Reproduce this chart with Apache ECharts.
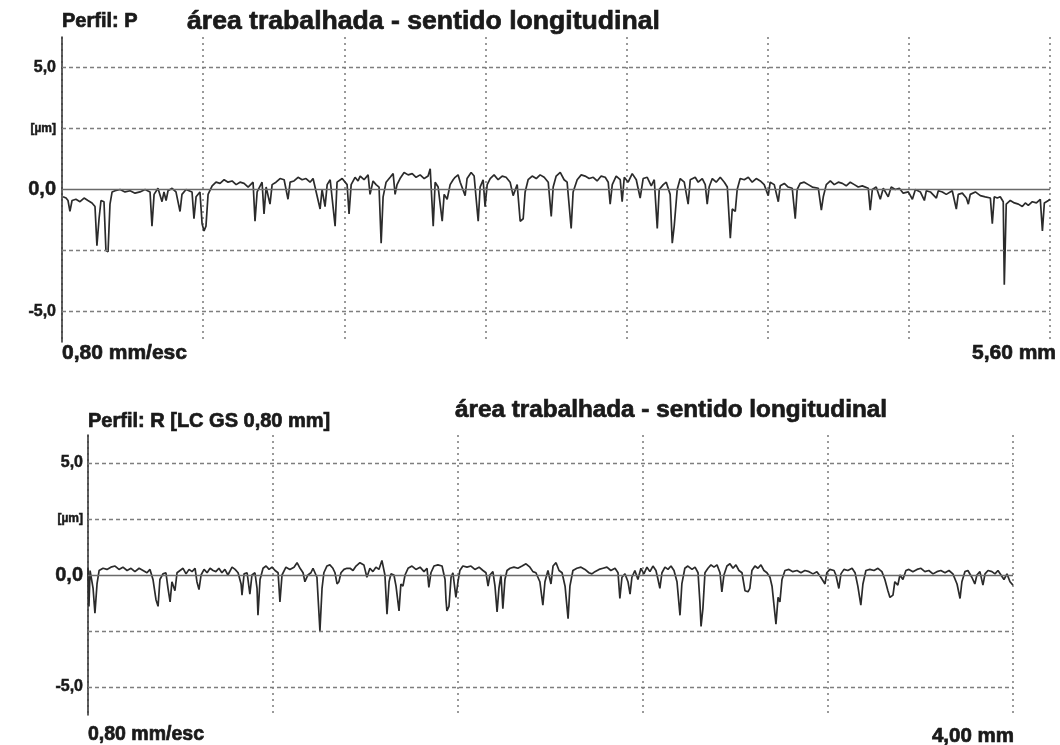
<!DOCTYPE html>
<html>
<head>
<meta charset="utf-8">
<script src="https://cdn.jsdelivr.net/npm/echarts@6/dist/echarts.min.js"></script>
<style>
  html, body { margin: 0; padding: 0; background: #ffffff; }
  #chart { width: 1060px; height: 745px; }
</style>
</head>
<body>
<div id="chart"></div>
<script>
// Primary profile (P): [position in mm, height in µm]
const profileP = [
  [0.006,-0.30],[0.023,-0.35],[0.034,-0.45],[0.045,-0.90],[0.057,-0.45],[0.079,-0.40],[0.102,-0.50],[0.125,-0.35],[0.147,-0.45],[0.170,-0.55],
  [0.187,-0.70],[0.198,-2.30],[0.210,-1.20],[0.221,-0.45],[0.238,-0.50],[0.249,-2.50],[0.261,-2.55],[0.272,-0.60],[0.284,-0.10],[0.301,-0.05],
  [0.329,0.00],[0.357,-0.10],[0.386,-0.05],[0.414,-0.15],[0.442,-0.10],[0.471,0.00],[0.499,-0.10],[0.510,-1.50],[0.522,-0.20],[0.544,0.05],
  [0.567,-0.50],[0.578,-0.10],[0.590,-0.45],[0.601,-0.05],[0.624,0.05],[0.646,-0.10],[0.669,-0.90],[0.680,-0.20],[0.703,0.00],[0.737,-0.10],
  [0.748,-1.20],[0.760,-0.30],[0.782,-0.10],[0.794,-1.40],[0.805,-1.70],[0.816,-1.50],[0.828,-0.20],[0.851,0.15],[0.873,0.30],[0.896,0.25],
  [0.919,0.40],[0.941,0.30],[0.964,0.35],[0.987,0.20],[1.009,0.30],[1.032,0.25],[1.055,0.10],[1.083,0.30],[1.094,-1.30],[1.106,-0.10],
  [1.134,0.30],[1.145,-1.00],[1.157,0.10],[1.179,-0.60],[1.191,0.20],[1.213,0.30],[1.236,0.45],[1.259,0.40],[1.281,-0.40],[1.293,0.30],
  [1.315,0.35],[1.338,0.50],[1.361,0.40],[1.383,0.45],[1.406,0.30],[1.423,0.45],[1.463,-0.80],[1.474,0.00],[1.491,-0.70],[1.503,0.20],
  [1.520,0.40],[1.548,-1.50],[1.559,0.30],[1.588,0.45],[1.616,0.20],[1.627,-1.00],[1.639,0.20],[1.661,0.50],[1.678,0.35],[1.690,0.55],
  [1.712,0.40],[1.735,0.60],[1.746,-0.20],[1.763,0.35],[1.780,0.20],[1.797,0.10],[1.809,-2.20],[1.820,-0.30],[1.837,0.30],[1.860,0.50],
  [1.877,0.65],[1.888,-0.20],[1.899,0.20],[1.916,0.45],[1.939,0.70],[1.962,0.60],[1.985,0.65],[2.007,0.50],[2.030,0.60],[2.053,0.45],
  [2.075,0.55],[2.087,0.85],[2.104,-1.50],[2.115,0.30],[2.132,0.10],[2.155,-1.30],[2.166,-0.20],[2.183,-0.40],[2.200,0.20],[2.217,0.40],
  [2.228,0.50],[2.245,0.60],[2.257,0.30],[2.285,-0.25],[2.296,0.45],[2.319,0.70],[2.336,0.55],[2.359,-1.30],[2.370,0.10],[2.387,0.40],
  [2.398,-0.70],[2.410,0.20],[2.427,0.45],[2.449,0.60],[2.472,0.40],[2.495,0.55],[2.517,0.50],[2.540,0.30],[2.557,-0.25],[2.580,0.20],
  [2.597,-1.30],[2.614,-1.20],[2.625,-0.10],[2.642,0.40],[2.665,0.55],[2.688,0.45],[2.710,0.60],[2.733,0.50],[2.756,0.30],[2.773,-1.10],
  [2.784,0.10],[2.801,0.55],[2.824,0.70],[2.846,0.40],[2.863,0.30],[2.886,-1.60],[2.897,-0.10],[2.920,0.40],[2.943,0.60],[2.965,0.55],
  [2.988,0.45],[3.011,0.50],[3.033,0.35],[3.056,0.55],[3.079,0.50],[3.096,0.30],[3.107,-0.60],[3.119,0.20],[3.141,0.55],[3.164,0.40],
  [3.175,-0.50],[3.187,0.50],[3.209,0.30],[3.232,0.65],[3.255,0.40],[3.277,-0.35],[3.294,0.45],[3.317,0.50],[3.340,0.15],[3.357,0.40],
  [3.374,-1.60],[3.385,0.00],[3.408,0.20],[3.425,0.30],[3.447,-0.20],[3.459,-2.20],[3.470,-1.50],[3.487,0.00],[3.504,0.45],[3.527,0.30],
  [3.549,-0.60],[3.561,0.40],[3.572,0.35],[3.589,0.50],[3.606,0.30],[3.629,0.45],[3.646,0.20],[3.657,-0.60],[3.668,0.10],[3.686,0.45],
  [3.708,0.30],[3.731,0.50],[3.754,0.30],[3.771,0.10],[3.788,-2.00],[3.799,-0.80],[3.816,-0.90],[3.827,0.00],[3.844,0.45],[3.867,0.40],
  [3.890,0.50],[3.912,0.30],[3.935,0.45],[3.958,0.35],[3.980,0.20],[4.003,-0.25],[4.014,0.30],[4.037,0.20],[4.060,-0.50],[4.071,0.15],
  [4.094,0.25],[4.116,0.10],[4.139,0.05],[4.156,-1.20],[4.167,0.00],[4.184,0.25],[4.207,0.30],[4.230,0.20],[4.253,0.10],[4.287,0.05],
  [4.304,-0.85],[4.315,-0.30],[4.332,0.20],[4.355,0.35],[4.377,0.20],[4.400,0.30],[4.423,0.25],[4.445,0.15],[4.468,0.30],[4.491,0.20],
  [4.513,0.10],[4.536,0.15],[4.570,0.05],[4.581,-0.85],[4.593,0.00],[4.615,0.10],[4.638,-0.40],[4.655,0.05],[4.683,-0.30],[4.700,0.10],
  [4.723,0.00],[4.746,0.05],[4.768,-0.15],[4.797,-0.10],[4.820,-0.40],[4.837,0.00],[4.865,-0.10],[4.888,-0.45],[4.899,-0.05],[4.922,-0.10],
  [4.956,-0.35],[4.967,-0.05],[4.990,-0.10],[5.012,-0.20],[5.046,-0.05],[5.069,-0.80],[5.080,-0.20],[5.103,-0.15],[5.126,-0.35],[5.137,-0.60],
  [5.148,-0.20],[5.177,-0.10],[5.205,-0.25],[5.233,-0.30],[5.262,-0.35],[5.273,-1.40],[5.284,-0.30],[5.301,-0.35],[5.318,-0.30],[5.335,-0.50],
  [5.341,-3.90],[5.352,-0.60],[5.375,-0.45],[5.398,-0.55],[5.421,-0.60],[5.443,-0.70],[5.460,-0.55],[5.477,-0.65],[5.500,-0.50],[5.523,-0.55],
  [5.545,-0.40],[5.557,-1.70],[5.568,-0.55],[5.591,-0.45],[5.600,-0.40]
];

// Roughness profile (R, Gaussian filter Lc 0,80 mm): [position in mm, height in µm]
const profileR = [
  [0.000,0.30],[0.004,-1.40],[0.009,0.20],[0.022,-0.60],[0.030,-1.70],[0.039,-0.40],[0.048,0.20],[0.065,0.30],[0.082,0.25],[0.099,0.35],
  [0.117,0.40],[0.134,0.25],[0.151,0.35],[0.169,0.20],[0.186,0.30],[0.203,0.15],[0.221,0.30],[0.238,0.20],[0.255,0.10],[0.268,0.25],
  [0.281,-0.20],[0.294,-1.10],[0.303,-1.40],[0.311,-0.20],[0.324,0.05],[0.337,0.10],[0.346,-0.60],[0.355,-1.20],[0.363,-0.30],[0.376,-0.70],
  [0.385,0.10],[0.398,0.20],[0.411,0.30],[0.424,0.05],[0.437,0.25],[0.450,0.15],[0.463,0.30],[0.471,-0.30],[0.480,-0.65],[0.489,0.00],
  [0.502,0.25],[0.515,0.10],[0.528,0.30],[0.541,0.20],[0.553,0.15],[0.566,0.30],[0.579,0.10],[0.592,0.25],[0.605,0.00],[0.623,0.35],
  [0.636,0.25],[0.649,0.10],[0.662,-0.40],[0.666,-0.90],[0.675,0.05],[0.688,0.10],[0.700,-0.85],[0.709,0.00],[0.722,0.10],[0.731,-0.60],
  [0.735,-1.80],[0.744,-0.20],[0.757,0.30],[0.770,0.40],[0.783,0.25],[0.796,0.35],[0.809,0.20],[0.822,0.10],[0.830,-1.20],[0.839,0.00],
  [0.856,0.35],[0.873,0.25],[0.891,0.35],[0.904,0.55],[0.917,0.30],[0.930,0.10],[0.938,-0.30],[0.951,0.00],[0.964,0.10],[0.973,0.30],
  [0.990,-0.10],[1.003,-2.50],[1.012,-0.60],[1.020,0.10],[1.033,0.40],[1.046,0.45],[1.059,0.30],[1.068,0.10],[1.077,-0.40],[1.085,-0.30],
  [1.094,0.10],[1.107,0.25],[1.120,0.30],[1.133,0.30],[1.146,0.20],[1.159,0.40],[1.176,0.55],[1.193,0.45],[1.206,-0.10],[1.219,0.30],
  [1.232,0.15],[1.245,0.35],[1.258,0.25],[1.271,0.65],[1.284,0.00],[1.293,-1.75],[1.302,-0.30],[1.310,0.05],[1.323,0.00],[1.332,-0.50],
  [1.345,-1.60],[1.353,-0.40],[1.362,-0.50],[1.371,0.00],[1.384,0.30],[1.401,0.40],[1.418,0.25],[1.436,0.35],[1.453,0.15],[1.466,0.30],
  [1.474,-0.55],[1.483,0.10],[1.496,0.40],[1.513,0.45],[1.531,0.40],[1.544,-0.20],[1.548,-1.10],[1.552,-1.60],[1.561,-1.40],[1.570,-0.10],
  [1.578,0.10],[1.591,-1.00],[1.600,-0.30],[1.608,0.20],[1.621,0.40],[1.639,0.35],[1.656,0.40],[1.673,0.25],[1.691,0.35],[1.708,0.20],
  [1.721,0.10],[1.730,-0.50],[1.738,0.00],[1.751,0.15],[1.760,-0.50],[1.769,-1.65],[1.777,-0.60],[1.786,0.00],[1.794,-1.50],[1.803,-0.20],
  [1.812,0.20],[1.825,0.30],[1.842,0.35],[1.859,0.30],[1.877,0.40],[1.894,0.50],[1.911,0.35],[1.924,0.15],[1.937,0.10],[1.954,-0.30],
  [1.967,-1.35],[1.976,-0.30],[1.989,0.20],[2.002,-0.40],[2.011,0.40],[2.024,0.55],[2.037,0.20],[2.050,0.10],[2.063,-0.50],[2.076,-1.95],
  [2.084,-0.50],[2.097,0.20],[2.114,0.30],[2.132,0.35],[2.149,0.25],[2.166,0.10],[2.179,0.05],[2.192,0.15],[2.210,0.25],[2.227,0.30],
  [2.244,0.35],[2.261,0.20],[2.279,0.30],[2.292,0.10],[2.300,-1.05],[2.309,-0.10],[2.322,0.05],[2.335,-0.30],[2.344,-0.85],[2.352,-0.10],
  [2.365,0.20],[2.378,-0.20],[2.391,0.30],[2.404,0.05],[2.417,0.35],[2.430,0.15],[2.443,0.40],[2.456,0.20],[2.465,-0.20],[2.473,-0.60],
  [2.482,0.10],[2.495,0.35],[2.508,0.25],[2.521,0.40],[2.534,0.20],[2.547,-0.30],[2.560,-1.80],[2.568,-0.40],[2.581,0.30],[2.594,0.40],
  [2.612,0.25],[2.625,0.35],[2.638,0.10],[2.646,-1.20],[2.651,-2.30],[2.659,-1.50],[2.668,0.10],[2.681,0.30],[2.694,0.45],[2.707,0.35],
  [2.720,0.45],[2.733,0.10],[2.741,-0.75],[2.750,0.00],[2.763,0.40],[2.776,0.50],[2.789,0.30],[2.802,0.45],[2.815,0.20],[2.828,0.10],
  [2.841,-0.70],[2.854,-0.75],[2.862,-0.60],[2.871,0.20],[2.884,0.40],[2.897,0.30],[2.910,0.45],[2.923,0.20],[2.936,0.10],[2.949,-0.10],
  [2.958,-0.50],[2.966,-1.30],[2.975,-2.20],[2.984,-1.00],[2.992,-1.20],[3.001,-0.20],[3.014,0.20],[3.031,0.25],[3.048,0.15],[3.066,0.20],
  [3.083,0.10],[3.100,0.20],[3.118,0.15],[3.135,0.05],[3.152,0.15],[3.169,-0.10],[3.187,-0.40],[3.195,0.10],[3.208,0.25],[3.226,0.20],
  [3.234,0.00],[3.247,-0.60],[3.256,0.05],[3.269,0.25],[3.286,0.20],[3.304,0.30],[3.317,0.10],[3.329,-0.50],[3.342,-1.35],[3.351,-0.40],
  [3.364,0.20],[3.381,0.25],[3.399,0.20],[3.416,0.30],[3.433,0.15],[3.446,-0.20],[3.459,-0.70],[3.468,-1.00],[3.481,-0.90],[3.489,-0.30],
  [3.502,-0.45],[3.511,0.00],[3.524,-0.20],[3.537,0.20],[3.550,0.25],[3.567,0.15],[3.585,0.25],[3.602,0.30],[3.619,0.15],[3.636,0.20],
  [3.654,0.05],[3.671,0.15],[3.688,0.20],[3.706,0.10],[3.723,0.20],[3.740,0.05],[3.758,-0.40],[3.771,-1.05],[3.779,-0.30],[3.792,0.15],
  [3.805,0.20],[3.822,-0.10],[3.835,-0.40],[3.844,0.00],[3.857,0.15],[3.870,-0.45],[3.879,0.05],[3.892,0.20],[3.909,0.15],[3.922,0.05],
  [3.935,0.20],[3.948,0.00],[3.961,-0.20],[3.974,0.05],[3.987,-0.30],[4.000,-0.45]
];

// Axis settings and texts
const lengthP = 5.6;          // mm
const lengthR = 4.0;          // mm
const stepX = 0.8;            // mm per division
const yLimit = 6.25;          // µm
const yStep = 1.25;
const yTickValues = [5, 2.5, 0, -5];
const yTickTexts = ['5,0', '[µm]', '0,0', '-5,0'];
const dashedLevels = [5, 2.5, -2.5, -5];
const headingP = 'Perfil: P';
const headingR = 'Perfil: R [LC GS 0,80 mm]';
const caption = 'área trabalhada - sentido longitudinal';
const scaleNote = '0,80 mm/esc';
const endLabelP = '5,60 mm';
const endLabelR = '4,00 mm';

const FONT = '"Liberation Sans", Arial, sans-serif';
const INK = '#1a1a1a';

// Only the four labelled levels get text; the zero label is drawn larger
function yLabelFormatter(v) {
  const val = Number(v);
  const i = yTickValues.findIndex(t => Math.abs(t - val) < 1e-6);
  if (i < 0) return '';
  const key = Math.abs(val) < 1e-6 ? 'z' : (Math.abs(val - 2.5) < 1e-6 ? 'u' : 'n');
  return '{' + key + '|' + yTickTexts[i] + '}';
}

function makeXAxis(gridIndex, len) {
  return {
    type: 'value', gridIndex, min: 0, max: len, interval: stepX,
    axisLine: { show: false }, axisTick: { show: false }, axisLabel: { show: false },
    splitLine: { show: true, lineStyle: { color: '#7a7a7a', width: 1.5, type: [2, 4] } }
  };
}

function richStyle(size) {
  return {
    fontFamily: FONT, fontWeight: 'bold', fontSize: size, color: INK,
    textBorderColor: INK, textBorderWidth: 0.5
  };
}

function makeYAxis(gridIndex, margin) {
  return {
    type: 'value', gridIndex, min: -yLimit, max: yLimit, interval: yStep,
    axisLine: { show: true, onZero: false, lineStyle: { color: '#3a3a3a', width: 1.6 } },
    axisTick: { show: false },
    splitLine: { show: false },
    axisLabel: {
      margin, formatter: yLabelFormatter, fontSize: 16,
      rich: { n: richStyle(16), z: richStyle(20), u: richStyle(12) }
    }
  };
}

function makeGuides(axisIndex) {
  const lines = dashedLevels.map(v => ({
    yAxis: v, lineStyle: { type: [4, 3], color: '#7e7e7e', width: 1.3 }
  }));
  lines.push({ yAxis: 0, lineStyle: { type: 'solid', color: '#6a6a6a', width: 1.3 } });
  return {
    type: 'line', xAxisIndex: axisIndex, yAxisIndex: axisIndex, z: 1,
    data: [[0, 0]], showSymbol: false, lineStyle: { opacity: 0 },
    markLine: { silent: true, symbol: 'none', label: { show: false }, data: lines }
  };
}

function makeProfile(axisIndex, data) {
  return {
    type: 'line', xAxisIndex: axisIndex, yAxisIndex: axisIndex, z: 3,
    data, showSymbol: false, symbol: 'none',
    lineStyle: { color: '#2b2b2b', width: 1.7 }
  };
}

function label(text, x, y, size, align) {
  return {
    type: 'text', x, y, silent: true,
    style: {
      text, fill: INK, font: 'bold ' + size + 'px ' + FONT,
      stroke: INK, lineWidth: 0.7,
      align: align || 'left', verticalAlign: 'middle'
    }
  };
}

const chart = echarts.init(document.getElementById('chart'), null, { renderer: 'canvas' });
chart.setOption({
  backgroundColor: '#ffffff',
  animation: false,
  grid: [
    { left: 62, top: 37, width: 988, height: 305 },
    { left: 88, top: 435, width: 925, height: 280 }
  ],
  xAxis: [makeXAxis(0, lengthP), makeXAxis(1, lengthR)],
  yAxis: [makeYAxis(0, 6), makeYAxis(1, 5)],
  series: [
    makeGuides(0), makeProfile(0, profileP),
    makeGuides(1), makeProfile(1, profileR)
  ],
  graphic: [
    label(headingP, 62, 21.5, 20),
    label(caption, 187, 22, 26.6),
    label(scaleNote, 62, 353, 21),
    label(endLabelP, 1056, 353, 21, 'right'),
    label(headingR, 88, 421.5, 20),
    label(caption, 455, 410, 24.3),
    label(scaleNote, 88, 735, 19.5),
    label(endLabelR, 1014, 736, 20.5, 'right')
  ]
});
</script>
</body>
</html>
